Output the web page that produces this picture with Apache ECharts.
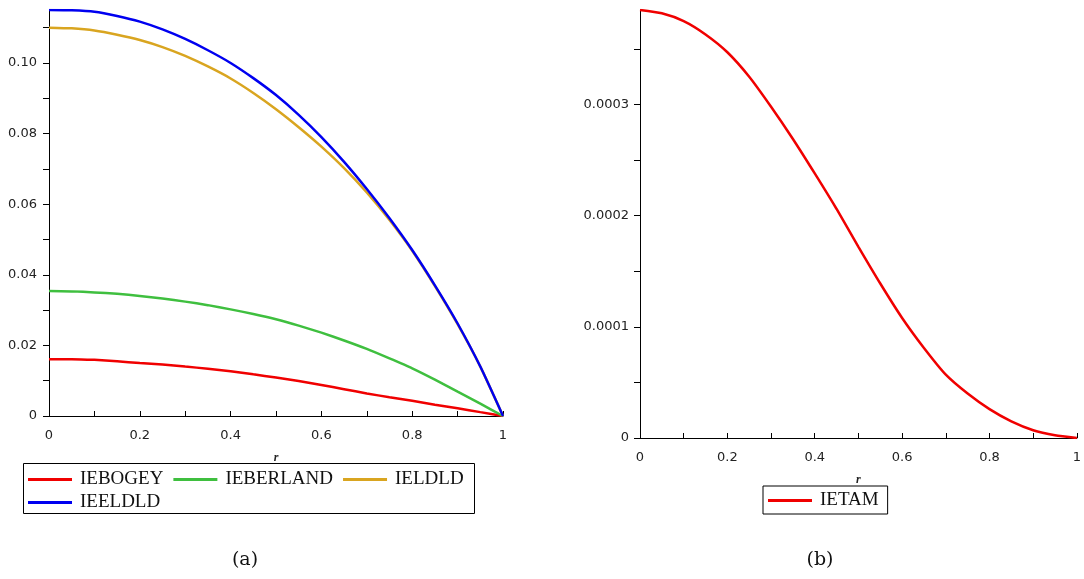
<!DOCTYPE html>
<html>
<head>
<meta charset="utf-8">
<script src="https://cdn.jsdelivr.net/npm/echarts@6/dist/echarts.min.js"></script>
<style>html,body{margin:0;padding:0;background:#fff;}#c{width:1084px;height:579px;}</style>
</head>
<body>
<div id="c"></div>
<script>
// ---- data ----
const rValues = [0,0.05,0.1,0.15,0.2,0.25,0.3,0.35,0.4,0.45,0.5,0.55,0.6,0.65,0.7,0.75,0.8,0.85,0.9,0.95,1];
const IEBOGEY   = [0.0161,0.0161,0.0159,0.0155,0.0150,0.0146,0.0140,0.0134,0.0127,0.0118,0.0109,0.0099,0.0088,0.0076,0.0064,0.0053,0.0043,0.0032,0.0022,0.0011,0];
const IEBERLAND = [0.0354,0.0353,0.0350,0.0346,0.0340,0.0333,0.0324,0.0314,0.0302,0.0289,0.0274,0.0256,0.0236,0.0214,0.0190,0.0163,0.0135,0.0103,0.0069,0.0035,0];
const IELDLD    = [0.1100,0.1098,0.1092,0.1080,0.1065,0.1045,0.1020,0.0990,0.0956,0.0915,0.0869,0.0818,0.0763,0.0702,0.0633,0.0555,0.0468,0.0368,0.0260,0.0140,0];
const IEELDLD   = [0.1150,0.1149,0.1145,0.1133,0.1117,0.1095,0.1068,0.1036,0.1000,0.0957,0.0909,0.0853,0.0790,0.0720,0.0643,0.0560,0.0470,0.0370,0.0262,0.0140,0];
const IETAM     = [0.000385,0.000382,0.000375,0.000363,0.000347,0.000325,0.000298,0.000269,0.000238,0.000206,0.000172,0.000139,0.000108,0.000081,0.000057,0.000040,0.000026,0.000015,0.000007,0.0000025,0];

const xTickValues = [0,0.1,0.2,0.3,0.4,0.5,0.6,0.7,0.8,0.9,1];
const xLabelValues = [0,0.2,0.4,0.6,0.8,1];
const leftYTickValues = [0,0.01,0.02,0.03,0.04,0.05,0.06,0.07,0.08,0.09,0.10,0.11];
const leftYLabelValues = [0,0.02,0.04,0.06,0.08,0.10];
const rightYTickValues = [0,0.00005,0.0001,0.00015,0.0002,0.00025,0.0003,0.00035];
const rightYLabelValues = [0,0.0001,0.0002,0.0003];
const captions = ['(a)','(b)'];

const pairs = arr => rValues.map((r,i)=>[r,arr[i]]);

const tickFont = {fontFamily:'DejaVu Sans', fontSize:13, color:'#222'};
const axisLine = {show:true, onZero:false, lineStyle:{color:'#000', width:1}};

function xAxis(gi){
  return {
    type:'value', gridIndex:gi, min:0, max:1,
    name:'r', nameLocation:'middle', nameGap:36,
    nameTextStyle:{fontFamily:'Liberation Serif', fontStyle:'italic', fontWeight:'bold', fontSize:12, color:'#222'},
    axisLine:axisLine,
    axisTick:{show:true, inside:true, length:5, lineStyle:{color:'#000'}, customValues:xTickValues},
    axisLabel:Object.assign({margin:13, customValues:xLabelValues,
      formatter:v=>String(Number(v.toFixed(1)))}, tickFont),
    splitLine:{show:false}
  };
}

const colors = {IEBOGEY:'#f00000', IEBERLAND:'#3fbf3f', IELDLD:'#d9a520', IEELDLD:'#0000f0', IETAM:'#f00000'};
function line(name, data, xi, yi){
  return {type:'line', name:name, data:pairs(data), xAxisIndex:xi, yAxisIndex:yi,
    showSymbol:false, symbol:'none', smooth:0.2, color:colors[name],
    lineStyle:{width:2.5, color:colors[name]}, itemStyle:{color:colors[name]}, animation:false};
}

const legendText = {fontFamily:'Liberation Serif', fontSize:19, color:'#111', padding:[0,0,0,3]};
const legendIcon = 'path://M0,0H44V3H0Z';
function legend(names, left, top){
  return {data:names, orient:'horizontal', icon:legendIcon, left:left, top:top,
    itemWidth:44, itemHeight:12, itemGap:10, padding:[0,0,0,5],
    textStyle:legendText, selectedMode:false};
}

const option = {
  animation:false,
  backgroundColor:'#fff',
  grid:[
    {left:49, right:581, top:10, bottom:163, containLabel:false},
    {left:640, right:5, top:10, bottom:141, containLabel:false}
  ],
  xAxis:[xAxis(0), xAxis(1)],
  yAxis:[
    {type:'value', gridIndex:0, min:0, max:0.115,
     axisLine:axisLine,
     axisTick:{show:true, inside:false, length:6, lineStyle:{color:'#000'}, customValues:leftYTickValues},
     axisLabel:Object.assign({margin:12, customValues:leftYLabelValues,
       formatter:v=> v===0 ? '0' : v.toFixed(2)}, tickFont),
     splitLine:{show:false}},
    {type:'value', gridIndex:1, min:0, max:0.000385,
     axisLine:axisLine,
     axisTick:{show:true, inside:false, length:6, lineStyle:{color:'#000'}, customValues:rightYTickValues},
     axisLabel:Object.assign({margin:11, customValues:rightYLabelValues,
       formatter:v=> v===0 ? '0' : v.toFixed(4)}, tickFont),
     splitLine:{show:false}}
  ],
  legend:[
    legend(['IEBOGEY','IEBERLAND','IELDLD'], 23, 470),
    legend(['IEELDLD'], 23, 493),
    Object.assign(legend(['IETAM'], 763, 486), {padding:[5,9,4,5], borderColor:'#000', borderWidth:1})
  ],
  series:[
    line('IEBOGEY', IEBOGEY, 0, 0),
    line('IEBERLAND', IEBERLAND, 0, 0),
    line('IELDLD', IELDLD, 0, 0),
    line('IEELDLD', IEELDLD, 0, 0),
    line('IETAM', IETAM, 1, 1)
  ],
  graphic:[
    {type:'rect', shape:{x:23.5, y:463.5, width:451, height:50}, style:{fill:null, stroke:'#000', lineWidth:1}, z:-1},
    {type:'text', x:245, y:560, style:{text:captions[0], font:'19px "DejaVu Serif"', fill:'#111', align:'center', verticalAlign:'middle'}},
    {type:'text', x:820, y:560, style:{text:captions[1], font:'19px "DejaVu Serif"', fill:'#111', align:'center', verticalAlign:'middle'}}
  ]
};

const chart = echarts.init(document.getElementById('c'), null, {renderer:'canvas'});
chart.setOption(option);
</script>
</body>
</html>
